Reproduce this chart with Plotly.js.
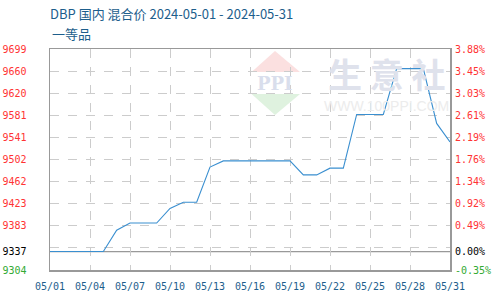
<!DOCTYPE html>
<html>
<head>
<meta charset="utf-8">
<script src="https://cdn.plot.ly/plotly-3.0.1.min.js"></script>
<style>html,body{margin:0;padding:0;background:#fff}#chart{width:500px;height:300px}</style>
</head>
<body>
<div id="chart"></div>
<script>
const dates = ["2024-05-01","2024-05-02","2024-05-03","2024-05-04","2024-05-05","2024-05-06","2024-05-07","2024-05-08","2024-05-09","2024-05-10","2024-05-11","2024-05-12","2024-05-13","2024-05-14","2024-05-15","2024-05-16","2024-05-17","2024-05-18","2024-05-19","2024-05-20","2024-05-21","2024-05-22","2024-05-23","2024-05-24","2024-05-25","2024-05-26","2024-05-27","2024-05-28","2024-05-29","2024-05-30","2024-05-31"];
const prices = [9337,9337,9337,9337,9337,9375,9388,9388,9388,9414,9425,9425,9488,9499,9499,9499,9499,9499,9499,9474,9474,9486,9486,9582,9582,9582,9664,9664,9664,9566,9533];
const basePrice = 9337;
const yTickVals = [9304,9337,9383,9422.5,9462,9501.5,9541,9580.5,9620,9659.5,9699];
const yTickText = ["9304","9337","9383","9423","9462","9502","9541","9581","9620","9660","9699"];
const pctTickText = ["-0.35%","0.00%","0.49%","0.92%","1.34%","1.76%","2.19%","2.61%","3.03%","3.45%","3.88%"];
const yMin = 9304, yMax = 9699;

function colorFor(v){ return v < basePrice ? "#33aa33" : (v === basePrice ? "#000000" : "#ff3333"); }
const leftText = yTickText.map((t,i)=>`<span style="color:${colorFor(yTickVals[i])}">${t}</span>`);
const rightText = pctTickText.map((t,i)=>`<span style="color:${colorFor(yTickVals[i])}">${t}</span>`);

const mono = "DejaVu Sans Mono";
const trace = {
  x: dates, y: prices, type: "scatter", mode: "lines",
  line: {color: "#3a8fd0", width: 1.1}, hoverinfo: "skip"
};
const layout = {
  width: 500, height: 300,
  margin: {l: 50, r: 50, t: 49, b: 30},
  paper_bgcolor: "#fff", plot_bgcolor: "#fff",
  showlegend: false,
  title: {text: "DBP 国内 混合价 2024-05-01 - 2024-05-31", x: 50/500, xanchor: "left", xref: "container",
          y: 1 - 14/300, yanchor: "middle", yref: "container",
          font: {family: "Noto Sans CJK SC", size: 13, color: "#1d5e8c"}},
  xaxis: {
    type: "date", range: ["2024-05-01", "2024-05-31"],
    tick0: "2024-05-01", dtick: 3*86400000, tickformat: "%m/%d",
    showgrid: true, gridcolor: "#cccccc", griddash: "dash", gridwidth: 1,
    showline: true, linecolor: "#999999", linewidth: 1.5, mirror: true,
    ticks: "", ticklabelstandoff: 6,
    tickfont: {family: mono, size: 10, color: "#1d5e8c"}, zeroline: false
  },
  yaxis: {
    range: [yMin, yMax], tickmode: "array", tickvals: yTickVals, ticktext: leftText,
    showgrid: false,
    minor: {tick0: yMin, dtick: 39.5, showgrid: true, gridcolor: "#cccccc", griddash: "dash", gridwidth: 1, ticks: ""},
    showline: true, linecolor: "#999999", linewidth: 1.5, mirror: true,
    ticks: "", ticklabelstandoff: 20, zeroline: false,
    tickfont: {family: mono, size: 10, color: "#ff3333"}
  },
  yaxis2: {
    range: [yMin, yMax], overlaying: "y", side: "right", tickmode: "array",
    tickvals: yTickVals, ticktext: rightText, showgrid: false, showline: false,
    ticks: "", ticklabelstandoff: 4, zeroline: false,
    tickfont: {family: mono, size: 10, color: "#ff3333"}
  },
  shapes: [
    {type: "line", xref: "paper", x0: 0, x1: 1, yref: "y", y0: basePrice, y1: basePrice,
     line: {color: "#999999", width: 1.2}, layer: "below"},
    {type: "path", xref: "paper", yref: "paper", path: "M 0.5625 0.991 L 0.625 0.896 L 0.504 0.896 Z",
     fillcolor: "#fbe0e0", line: {width: 0}, layer: "below"},
    {type: "path", xref: "paper", yref: "paper", path: "M 0.504 0.796 L 0.625 0.796 L 0.5625 0.701 Z",
     fillcolor: "#dff2df", line: {width: 0}, layer: "below"}
  ],
  annotations: [
    {text: "一等品", xref: "paper", yref: "paper", x: 0, xanchor: "left", y: 1 + (49-33)/221, yanchor: "middle",
     showarrow: false, font: {family: "Noto Sans CJK SC", size: 13, color: "#1d5e8c"}},
    {text: "<b>PPI</b>", xref: "paper", yref: "paper", x: 0.5625, y: 0.844, xanchor: "center", yanchor: "middle",
     showarrow: false, font: {family: "DejaVu Serif", size: 18, color: "#d9deec"}},
    {text: "<b>生 意 社</b>", xref: "paper", yref: "paper", x: 0.841, y: 0.889, xanchor: "center", yanchor: "middle",
     showarrow: false, font: {family: "Noto Sans CJK SC", size: 34, color: "#dfe2ec"}},
    {text: "WWW.100PPI.COM", xref: "paper", yref: "paper", x: 0.841, y: 0.742, xanchor: "center", yanchor: "middle",
     showarrow: false, font: {family: "Liberation Sans", size: 14, color: "#ececec"}}
  ]
};
Plotly.newPlot("chart", [trace, {x: dates, y: prices, yaxis: "y2", type: "scatter", mode: "lines", line: {width: 0}, hoverinfo: "skip", showlegend: false}], layout, {staticPlot: true});
</script>
</body>
</html>
